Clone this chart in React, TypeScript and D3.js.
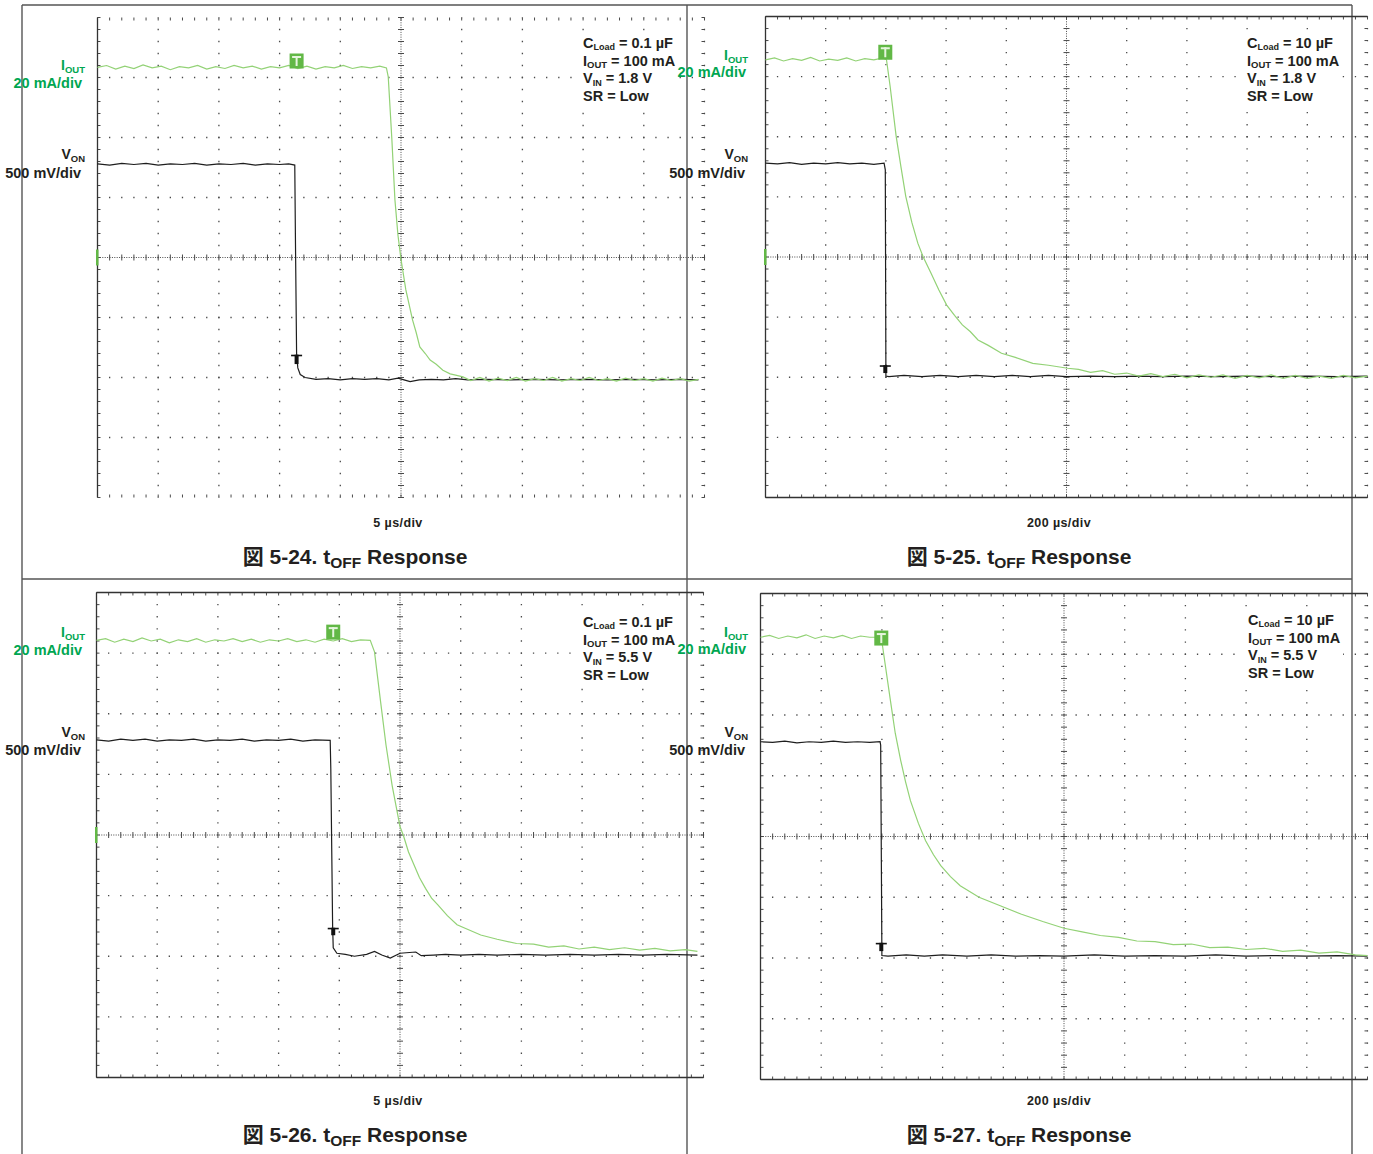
import React from 'react';
import * as d3 from 'd3';

// ---------- DATA (time in divisions, level in divisions from the top of the screen) ----------
type Pt = [number, number];

const P1_IOUT: Pt[] = [[0,0.83],[0.15,0.80],[0.3,0.86],[0.45,0.81],[0.6,0.85],[0.75,0.79],[0.9,0.84],[1.05,0.81],[1.2,0.87],[1.35,0.82],[1.5,0.84],[1.65,0.80],[1.8,0.86],[1.95,0.82],[2.1,0.85],[2.25,0.80],[2.4,0.84],[2.55,0.81],[2.7,0.86],[2.85,0.82],[3.0,0.84],[3.15,0.80],[3.3,0.85],[3.45,0.81],[3.6,0.86],[3.75,0.82],[3.9,0.84],[4.05,0.80],[4.2,0.85],[4.35,0.82],[4.5,0.84],[4.65,0.81],[4.76,0.84],[4.79,0.99],[4.85,2.04],[4.90,3.04],[4.95,3.63],[5.0,4.03],[5.08,4.54],[5.19,5.04],[5.25,5.25],[5.31,5.49],[5.4,5.6],[5.48,5.71],[5.58,5.78],[5.69,5.88],[5.81,5.94],[5.9,5.96],[6.02,5.99],[6.15,6.05],[6.3,6.0],[6.45,6.06],[6.6,6.01],[6.75,6.05],[6.9,6.0],[7.05,6.06],[7.2,6.02],[7.35,6.05],[7.5,6.0],[7.65,6.06],[7.8,6.02],[7.95,6.05],[8.1,6.0],[8.25,6.05],[8.4,6.02],[8.55,6.06],[8.7,6.01],[8.85,6.05],[9.0,6.02],[9.15,6.06],[9.3,6.01],[9.45,6.05],[9.6,6.02],[9.75,6.06],[9.9,6.03]];
const P1_VON: Pt[] = [[0,2.44],[0.2,2.46],[0.4,2.43],[0.6,2.45],[0.8,2.43],[1.0,2.46],[1.2,2.44],[1.4,2.45],[1.6,2.43],[1.8,2.46],[2.0,2.44],[2.2,2.45],[2.4,2.43],[2.6,2.46],[2.8,2.44],[3.0,2.45],[3.15,2.44],[3.25,2.46],[3.26,3.6],[3.28,5.6],[3.30,5.84],[3.34,5.95],[3.42,6.0],[3.6,6.03],[3.8,6.02],[4.0,6.04],[4.2,6.02],[4.4,6.03],[4.6,6.02],[4.8,6.04],[4.95,6.01],[5.05,6.04],[5.15,6.07],[5.3,6.04],[5.5,6.03],[5.7,6.04],[5.9,6.02],[6.1,6.04],[6.4,6.03],[6.8,6.04],[7.2,6.03],[7.6,6.04],[8.0,6.03],[8.4,6.04],[8.8,6.03],[9.2,6.04],[9.6,6.03],[9.9,6.04]];

const P2_IOUT: Pt[] = [[0,0.72],[0.15,0.69],[0.3,0.74],[0.45,0.70],[0.6,0.73],[0.75,0.68],[0.9,0.74],[1.05,0.71],[1.2,0.73],[1.35,0.69],[1.5,0.74],[1.65,0.70],[1.8,0.72],[1.95,0.69],[2.01,0.72],[2.07,1.16],[2.17,1.99],[2.25,2.5],[2.33,2.99],[2.43,3.42],[2.53,3.77],[2.62,4.0],[2.75,4.27],[2.88,4.55],[3.01,4.80],[3.14,4.97],[3.27,5.13],[3.4,5.24],[3.53,5.38],[3.7,5.47],[3.92,5.60],[4.15,5.67],[4.44,5.77],[4.7,5.80],[5.02,5.85],[5.2,5.87],[5.4,5.92],[5.6,5.89],[5.8,5.95],[6.0,5.93],[6.2,5.98],[6.4,5.94],[6.6,5.99],[6.8,5.95],[7.0,6.01],[7.2,5.96],[7.4,6.0],[7.6,5.96],[7.8,6.02],[8.0,5.97],[8.2,6.01],[8.4,5.96],[8.6,6.02],[8.8,5.97],[9.0,6.02],[9.2,5.98],[9.4,6.02],[9.6,5.97],[9.8,6.01],[10,5.98]];
const P2_VON: Pt[] = [[0,2.44],[0.2,2.45],[0.4,2.43],[0.6,2.46],[0.8,2.44],[1.0,2.45],[1.2,2.43],[1.4,2.45],[1.6,2.44],[1.8,2.46],[1.97,2.44],[1.99,2.55],[2.0,5.98],[2.05,5.99],[2.3,5.97],[2.6,5.99],[2.9,5.97],[3.2,5.99],[3.5,5.97],[3.8,5.99],[4.1,5.97],[4.4,5.99],[4.7,5.97],[5.0,5.99],[5.4,5.98],[5.8,5.99],[6.2,5.98],[6.6,5.99],[7.0,5.98],[7.5,5.99],[8.0,5.98],[8.5,5.99],[9.0,5.98],[9.5,5.99],[10,5.98]];

const P3_IOUT: Pt[] = [[0,0.79],[0.15,0.76],[0.3,0.82],[0.45,0.77],[0.6,0.81],[0.75,0.75],[0.9,0.80],[1.05,0.77],[1.2,0.83],[1.35,0.78],[1.5,0.81],[1.65,0.76],[1.8,0.82],[1.95,0.78],[2.1,0.80],[2.25,0.76],[2.4,0.81],[2.55,0.77],[2.7,0.82],[2.85,0.78],[3.0,0.80],[3.15,0.76],[3.3,0.81],[3.45,0.78],[3.6,0.82],[3.75,0.77],[3.9,0.80],[4.05,0.76],[4.2,0.81],[4.35,0.78],[4.51,0.79],[4.58,0.98],[4.68,1.80],[4.77,2.52],[4.87,3.18],[5.0,3.86],[5.06,4.02],[5.14,4.28],[5.23,4.49],[5.32,4.7],[5.42,4.88],[5.52,5.04],[5.62,5.15],[5.78,5.33],[5.94,5.48],[6.12,5.56],[6.33,5.65],[6.6,5.72],[6.92,5.79],[7.2,5.80],[7.45,5.85],[7.7,5.83],[7.95,5.88],[8.2,5.85],[8.45,5.89],[8.7,5.86],[8.95,5.90],[9.2,5.87],[9.45,5.91],[9.7,5.89],[9.9,5.92]];
const P3_VON: Pt[] = [[0,2.43],[0.2,2.45],[0.4,2.42],[0.6,2.44],[0.8,2.42],[1.0,2.45],[1.2,2.43],[1.4,2.44],[1.6,2.42],[1.8,2.45],[2.0,2.43],[2.2,2.44],[2.4,2.42],[2.6,2.45],[2.8,2.43],[3.0,2.44],[3.2,2.42],[3.4,2.45],[3.6,2.43],[3.85,2.44],[3.86,2.9],[3.89,5.5],[3.9,5.86],[3.96,5.95],[4.1,5.97],[4.25,6.0],[4.45,5.97],[4.58,5.92],[4.7,5.98],[4.84,6.03],[5.0,5.95],[5.26,5.93],[5.35,5.99],[5.55,5.98],[5.75,5.97],[6.0,5.98],[6.3,5.97],[6.6,5.98],[7.0,5.97],[7.4,5.98],[7.8,5.97],[8.2,5.98],[8.6,5.97],[9.0,5.98],[9.4,5.97],[9.9,5.98]];

const P4_IOUT: Pt[] = [[0,0.72],[0.15,0.69],[0.3,0.74],[0.45,0.70],[0.6,0.73],[0.75,0.68],[0.9,0.74],[1.05,0.70],[1.2,0.73],[1.35,0.69],[1.5,0.74],[1.65,0.70],[1.8,0.72],[1.99,0.72],[2.03,1.0],[2.14,1.76],[2.22,2.3],[2.31,2.75],[2.39,3.1],[2.47,3.41],[2.6,3.78],[2.72,4.07],[2.85,4.3],[2.97,4.48],[3.13,4.66],[3.29,4.81],[3.6,5.0],[3.95,5.14],[4.3,5.28],[4.65,5.4],[5.0,5.51],[5.3,5.57],[5.6,5.63],[5.9,5.66],[6.2,5.72],[6.5,5.73],[6.8,5.78],[7.1,5.77],[7.4,5.83],[7.7,5.82],[8.0,5.86],[8.3,5.84],[8.6,5.89],[8.9,5.87],[9.2,5.92],[9.5,5.90],[9.8,5.95],[10,5.96]];
const P4_VON: Pt[] = [[0,2.44],[0.2,2.45],[0.4,2.43],[0.6,2.46],[0.8,2.44],[1.0,2.45],[1.2,2.43],[1.4,2.45],[1.6,2.44],[1.8,2.45],[1.97,2.44],[1.98,2.5],[2.0,5.96],[2.1,5.97],[2.4,5.95],[2.7,5.97],[3.0,5.95],[3.4,5.97],[3.8,5.95],[4.2,5.97],[4.6,5.96],[5.0,5.97],[5.5,5.95],[6.0,5.97],[6.5,5.96],[7.0,5.97],[7.5,5.95],[8.0,5.97],[8.5,5.96],[9.0,5.97],[9.5,5.96],[10,5.97]];

const FIG_NUMBERS = ['5-24', '5-25', '5-26', '5-27'];
const TIMEBASES = ['5 µs/div', '200 µs/div', '5 µs/div', '200 µs/div'];
const CLOAD_VALUES = ['0.1 µF', '10 µF', '0.1 µF', '10 µF'];
const VIN_VALUES = ['1.8 V', '1.8 V', '5.5 V', '5.5 V'];
const IOUT_SETTING = '100 mA';
const SR_SETTING = 'Low';
const IOUT_SCALE = '20 mA/div';
const VON_SCALE = '500 mV/div';
// trigger marker positions (div): [x, top of green flag, top of black T, bottom of black T]
const TRIG_MARKS: [number, number, number, number][] = [[3.28, 0.60, 5.62, 5.86], [1.99, 0.47, 5.80, 6.0], [3.9, 0.53, 5.53, 5.72], [1.99, 0.61, 5.75, 5.96]];
const GND_MARK = [true, true, true, false];

// ---------- LAYOUT ----------
const W = 1373, H = 1154;
const GREEN_TXT = '#00a651';
const GREEN_TRACE = '#93d276';
const GREEN_FLAG = '#62b846';
const DARK = '#231f20';
const FONT = '"Liberation Sans", Arial, "Noto Sans CJK JP", sans-serif';

type Layout = {
  x: number; y: number; w: number; h: number; solid: { l: boolean; t: boolean; r: boolean; b: boolean };
  ioutLab: [number, number]; ioutDiv: [number, number]; vonLab: [number, number]; vonDiv: [number, number];
  ann: [number, number]; tb: [number, number]; cap: [number, number];
};

const LAYOUTS: Layout[] = [
  { x: 97.5, y: 17.5, w: 607, h: 480, solid: { l: true, t: false, r: false, b: false },
    ioutLab: [85, 70], ioutDiv: [82, 88], vonLab: [85, 159], vonDiv: [81, 178], ann: [583, 48], tb: [398, 527], cap: [355, 564] },
  { x: 765.5, y: 16.5, w: 602, h: 481, solid: { l: true, t: true, r: false, b: true },
    ioutLab: [748, 60], ioutDiv: [746, 77], vonLab: [748, 159], vonDiv: [745, 178], ann: [1247, 48], tb: [1059, 527], cap: [1019, 564] },
  { x: 96.5, y: 592.5, w: 607, h: 485, solid: { l: true, t: true, r: false, b: true },
    ioutLab: [85, 637], ioutDiv: [82, 655], vonLab: [85, 737], vonDiv: [81, 755], ann: [583, 627], tb: [398, 1105], cap: [355, 1142] },
  { x: 760.5, y: 593.5, w: 607, h: 486, solid: { l: true, t: true, r: false, b: true },
    ioutLab: [748, 637], ioutDiv: [746, 654], vonLab: [748, 737], vonDiv: [745, 755], ann: [1248, 625], tb: [1059, 1105], cap: [1019, 1142] },
];

const SERIES: { iout: Pt[]; von: Pt[] }[] = [
  { iout: P1_IOUT, von: P1_VON },
  { iout: P2_IOUT, von: P2_VON },
  { iout: P3_IOUT, von: P3_VON },
  { iout: P4_IOUT, von: P4_VON },
];

function Scope({ idx }: { idx: number }) {
  const L = LAYOUTS[idx];
  const xs = d3.scaleLinear().domain([0, 10]).range([L.x, L.x + L.w]);
  const ys = d3.scaleLinear().domain([0, 8]).range([L.y, L.y + L.h]);
  const line = d3.line<Pt>().x(d => xs(d[0])).y(d => ys(d[1]));
  const stepX = xs(0.2) - xs(0);
  const stepY = ys(0.2) - ys(0);
  const gridCol = '#4a4a4a';
  const [tx, flagTop, tTop, tBot] = TRIG_MARKS[idx];
  const mx = xs(tx);
  const fy = ys(flagTop);
  const s = SERIES[idx];

  const minorX = d3.range(0, 50.001, 1).map(k => k * 0.2);
  const minorY = d3.range(0, 40.001, 1).map(k => k * 0.2);

  return (
    <g>
      {/* major dotted grid */}
      {d3.range(1, 10).filter(i => i !== 5).map(i => (
        <line key={'v' + i} x1={xs(i)} x2={xs(i)} y1={ys(0)} y2={ys(8)} stroke={gridCol} strokeWidth={1.3}
          strokeDasharray={`1.3 ${stepY - 1.3}`} strokeDashoffset={0.65} />
      ))}
      {d3.range(1, 8).filter(j => j !== 4).map(j => (
        <line key={'h' + j} x1={xs(0)} x2={xs(10)} y1={ys(j)} y2={ys(j)} stroke={gridCol} strokeWidth={1.3}
          strokeDasharray={`1.3 ${stepX - 1.3}`} strokeDashoffset={0.65} />
      ))}
      {!L.solid.r && (
        <line x1={xs(10)} x2={xs(10)} y1={ys(0)} y2={ys(8)} stroke={gridCol} strokeWidth={1.2}
          strokeDasharray={`1.3 ${stepY - 1.3}`} strokeDashoffset={0.65} />
      )}
      {/* centre lines */}
      <line x1={xs(5)} x2={xs(5)} y1={ys(0)} y2={ys(8)} stroke={gridCol} strokeWidth={1} strokeDasharray="1 1.4" />
      <line x1={xs(0)} x2={xs(10)} y1={ys(4)} y2={ys(4)} stroke={gridCol} strokeWidth={1} strokeDasharray="1 1.4" />
      {minorY.map((v, k) => (
        <line key={'cy' + k} x1={xs(5) - 3} x2={xs(5) + 3} y1={ys(v)} y2={ys(v)} stroke={gridCol} strokeWidth={1} />
      ))}
      {minorX.map((v, k) => (
        <line key={'cx' + k} x1={xs(v)} x2={xs(v)} y1={ys(4) - 3} y2={ys(4) + 3} stroke={gridCol} strokeWidth={1} />
      ))}
      {/* edge ticks */}
      {minorX.map((v, k) => (
        <g key={'ex' + k}>
          <line x1={xs(v)} x2={xs(v)} y1={ys(0)} y2={ys(0) + 3} stroke={gridCol} strokeWidth={1} />
          <line x1={xs(v)} x2={xs(v)} y1={ys(8) - 3} y2={ys(8)} stroke={gridCol} strokeWidth={1} />
        </g>
      ))}
      {minorY.map((v, k) => (
        <g key={'ey' + k}>
          <line x1={xs(0)} x2={xs(0) + 3} y1={ys(v)} y2={ys(v)} stroke={gridCol} strokeWidth={1} />
          <line x1={xs(10) - 3} x2={xs(10)} y1={ys(v)} y2={ys(v)} stroke={gridCol} strokeWidth={1} />
        </g>
      ))}
      {/* solid borders */}
      {L.solid.l && <line x1={xs(0)} x2={xs(0)} y1={ys(0)} y2={ys(8)} stroke="#333" strokeWidth={1.3} />}
      {L.solid.t && <line x1={xs(0)} x2={xs(10)} y1={ys(0)} y2={ys(0)} stroke="#333" strokeWidth={1.3} />}
      {L.solid.b && <line x1={xs(0)} x2={xs(10)} y1={ys(8)} y2={ys(8)} stroke="#333" strokeWidth={1.3} />}

      {/* white box behind the conditions */}
      <rect x={L.ann[0] - 3} y={L.ann[1] - 13} width={98} height={70} fill="#fff" />

      {/* ground marker */}
      {GND_MARK[idx] && <rect x={xs(0) - 1.5} y={ys(4) - 8} width={2.5} height={16} fill={GREEN_FLAG} />}

      {/* traces */}
      <path d={line(s.von) || ''} fill="none" stroke="#1e1e1e" strokeWidth={1.2} />
      <path d={line(s.iout) || ''} fill="none" stroke={GREEN_TRACE} strokeWidth={1.2} />

      {/* trigger flag (green) */}
      <rect x={mx - 7} y={fy} width={14} height={15} fill={GREEN_FLAG} />
      <rect x={mx - 4.5} y={fy + 2.5} width={9} height={2} fill="#e6f5de" />
      <rect x={mx - 1} y={fy + 2.5} width={2} height={10} fill="#e6f5de" />
      {/* trigger level T (black) */}
      <rect x={mx - 5.5} y={ys(tTop)} width={11} height={1.6} fill="#111" />
      <rect x={mx - 2} y={ys(tTop)} width={4} height={(ys(tBot) - ys(tTop)) * 0.65} fill="#111" />

      {/* channel labels */}
      <text x={L.ioutLab[0]} y={L.ioutLab[1]} textAnchor="end" fill={GREEN_TXT} fontFamily={FONT} fontWeight="bold" fontSize={14}>
        I<tspan fontSize={9.5} dy={2.5}>OUT</tspan>
      </text>
      <text x={L.ioutDiv[0]} y={L.ioutDiv[1]} textAnchor="end" fill={GREEN_TXT} fontFamily={FONT} fontWeight="bold" fontSize={14.5}>{IOUT_SCALE}</text>
      <text x={L.vonLab[0]} y={L.vonLab[1]} textAnchor="end" fill={DARK} fontFamily={FONT} fontWeight="bold" fontSize={14}>
        V<tspan fontSize={9.5} dy={2.5}>ON</tspan>
      </text>
      <text x={L.vonDiv[0]} y={L.vonDiv[1]} textAnchor="end" fill={DARK} fontFamily={FONT} fontWeight="bold" fontSize={14.5}>{VON_SCALE}</text>

      {/* conditions */}
      <g fontFamily={FONT} fontWeight="bold" fontSize={14.5} fill={DARK}>
        <text x={L.ann[0]} y={L.ann[1]}>C<tspan fontSize={9} dy={2}>Load</tspan><tspan dy={-2}>{' = ' + CLOAD_VALUES[idx]}</tspan></text>
        <text x={L.ann[0]} y={L.ann[1] + 17.5}>I<tspan fontSize={9.5} dy={2.5}>OUT</tspan><tspan dy={-2.5}>{' = ' + IOUT_SETTING}</tspan></text>
        <text x={L.ann[0]} y={L.ann[1] + 35}>V<tspan fontSize={9} dy={2.5}>IN</tspan><tspan dy={-2.5}>{' = ' + VIN_VALUES[idx]}</tspan></text>
        <text x={L.ann[0]} y={L.ann[1] + 52.5}>{'SR = ' + SR_SETTING}</text>
      </g>

      {/* timebase + caption */}
      <text x={L.tb[0]} y={L.tb[1]} textAnchor="middle" fill={DARK} fontFamily={FONT} fontWeight="bold" fontSize={12.5} letterSpacing={0.4}>{TIMEBASES[idx]}</text>
      <text x={L.cap[0]} y={L.cap[1]} textAnchor="middle" fill={DARK} fontFamily={FONT} fontWeight="bold" fontSize={21}>
        {'図 ' + FIG_NUMBERS[idx] + '. t'}<tspan fontSize={15.5} dy={4}>OFF</tspan><tspan dy={-4}>{' Response'}</tspan>
      </text>
    </g>
  );
}

export default function App() {
  return (
    <svg width={W} height={H} viewBox={`0 0 ${W} ${H}`}
      style={{ position: 'absolute', left: 0, top: 0, background: '#fff', display: 'block' }}>
      <rect x={0} y={0} width={W} height={H} fill="#fff" />
      {/* outer frame */}
      <g stroke="#555" strokeWidth={1.4}>
        <line x1={22} x2={1352} y1={5} y2={5} />
        <line x1={22} x2={1352} y1={579} y2={579} />
        <line x1={22} x2={22} y1={5} y2={H} />
        <line x1={687} x2={687} y1={5} y2={H} />
        <line x1={1352} x2={1352} y1={5} y2={H} />
      </g>
      {[0, 1, 2, 3].map(i => <Scope key={i} idx={i} />)}
    </svg>
  );
}
